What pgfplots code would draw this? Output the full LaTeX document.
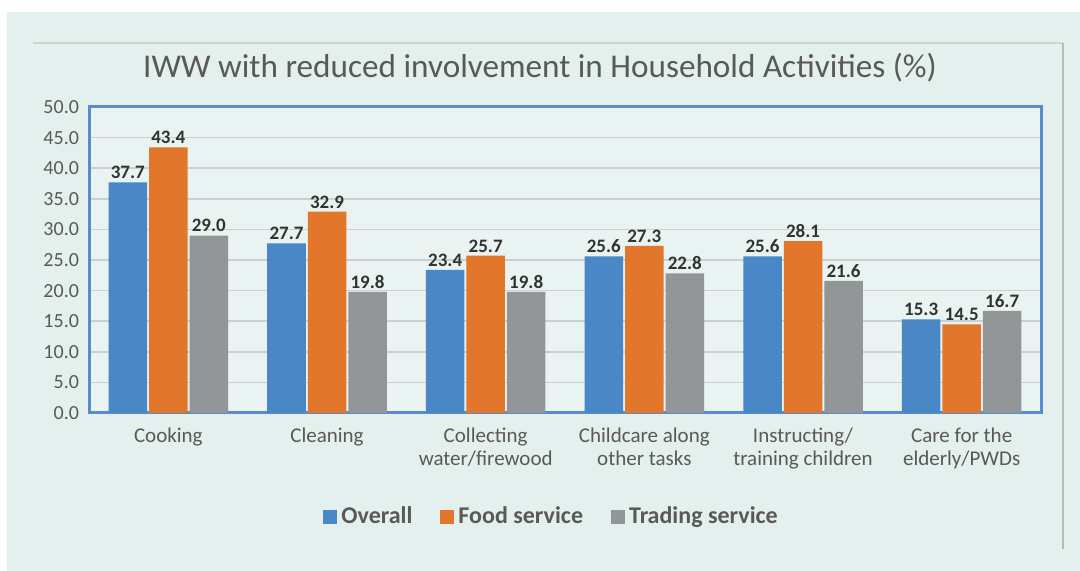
\documentclass[border=0pt]{standalone}
\usepackage{fontspec}
\setmainfont{Carlito}
\usepackage{pgfplots}
\pgfplotsset{compat=1.18}
\definecolor{bgpanel}{RGB}{227,240,238}
\definecolor{cblue}{RGB}{74,135,199}
\definecolor{corange}{RGB}{226,118,42}
\definecolor{cgray}{RGB}{147,150,151}
\definecolor{frameblue}{RGB}{88,140,205}
\definecolor{txtgray}{RGB}{89,89,89}
\definecolor{lblgray}{RGB}{50,50,50}
\definecolor{gridc}{RGB}{200,208,208}

\pgfplotstableread{
x overall food trading
0 37.7 43.4 29.0
1 27.7 32.9 19.8
2 23.4 25.7 19.8
3 25.6 27.3 22.8
4 25.6 28.1 21.6
5 15.3 14.5 16.7
}\datatable

\begin{document}
\begin{tikzpicture}
% page and panel (1px = 0.5pt, origin at axis lower left)
\useasboundingbox (-44.5pt,-79pt) rectangle (495.5pt,206.5pt);
\fill[white] (-44.5pt,-79pt) rectangle (495.5pt,206.5pt);
\fill[bgpanel] (-41pt,-79pt) rectangle (495.5pt,200.5pt);
\draw[gray!35, line width=0.6pt] (-28pt,185pt) -- (487pt,185pt);
\draw[gray!55, line width=1pt] (487pt,185pt) -- (487pt,-68pt);
\node[text=txtgray, font=\fontsize{16.6}{19}\selectfont] at (225.5pt,172.5pt)
  {IWW with reduced involvement in Household Activities (\%)};
\begin{axis}[
    at={(0,0)}, anchor=south west,
    scale only axis, width=476pt, height=153pt,
    ybar=1pt, bar width=19.25pt,
    xmin=-0.5, xmax=5.5, ymin=0, ymax=50,
    ytick={0,5,...,50},
    xtick=data,
    xticklabels={Cooking, Cleaning, Collecting\\water/firewood,
      Childcare along\\other tasks, Instructing/\\training children,
      Care for the\\elderly/PWDs},
    xticklabel style={align=center, text=txtgray,
      font=\fontsize{10.5}{11.5}\selectfont, yshift=-4pt},
    yticklabel style={text=txtgray, font=\fontsize{10}{12}\selectfont, xshift=-1.5pt},
    /pgf/number format/assume math mode=true,
    yticklabel={\pgfmathprintnumber[fixed,fixed zerofill,precision=1]{\tick}},
    major tick length=0pt,
    ymajorgrids, grid style={gridc, line width=0.8pt},
    axis line style={frameblue, line width=1.5pt},
    axis background/.style={fill=bgpanel!80!white},
    nodes near coords={\pgfmathprintnumber[fixed,fixed zerofill,precision=1]{\pgfplotspointmeta}},
    every node near coord/.append style={text=lblgray,
      font=\bfseries\fontsize{9.5}{11}\selectfont, inner sep=1.5pt},
    legend style={at={(0.487,-0.34)}, anchor=center, draw=none, fill=none,
      legend columns=3, font=\bfseries\fontsize{12}{14}\selectfont, text=txtgray,
      /tikz/every even column/.append style={column sep=12pt}},
    legend image code/.code={\fill[#1] (0pt,-3.5pt) rectangle (7pt,3.5pt);},
]
\addplot[fill=cblue, draw=none] table[x=x, y=overall] {\datatable};
\addlegendentry{Overall}
\addplot[fill=corange, draw=none] table[x=x, y=food] {\datatable};
\addlegendentry{Food service}
\addplot[fill=cgray, draw=none] table[x=x, y=trading] {\datatable};
\addlegendentry{Trading service}
\end{axis}
\end{tikzpicture}
\end{document}
